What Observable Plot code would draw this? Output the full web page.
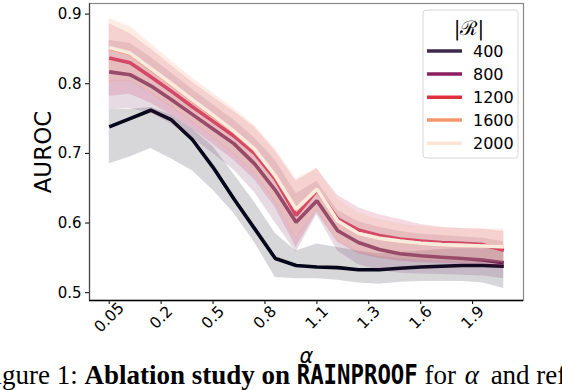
<!DOCTYPE html>
<html><head><meta charset="utf-8">
<script src="https://cdn.jsdelivr.net/npm/d3@7"></script>
<script src="https://cdn.jsdelivr.net/npm/@observablehq/plot@0.6"></script>
<style>
body{margin:0;background:#fff;}
#wrap{position:relative;width:562px;height:390px;overflow:hidden;}
#chart{position:absolute;left:0;top:0;}
.over{position:absolute;left:0;top:0;}
</style></head>
<body><div id="wrap"><div id="chart"></div></div>
<script>
// ---- data ----
const alphaIdx = [0,1,2,3,4,5,6,7,8,9,10,11,12,13,14,15,16,17,18,19];
const tickPos = [0,2.5,5,7.5,10,12.5,15,17.5];
const tickLabels = ["0.05","0.2","0.5","0.8","1.1","1.3","1.6","1.9"];
const yTicks = [0.5,0.6,0.7,0.8,0.9];
const sizes = [400,800,1200,1600,2000];
const lineColors = ["#05061b","#611d51","#c9184f","#f4875c","#faebdd"];
const legendColors = ["#3d2a4a","#8c1f5f","#e0303e","#f4966d","#fce4d4"];

const auroc400 = [0.738,0.750,0.762,0.748,0.720,0.680,0.635,0.592,0.549,0.539,0.537,0.536,0.533,0.533,0.535,0.537,0.538,0.539,0.539,0.538];
const low400   = [0.685,0.695,0.707,0.692,0.675,0.647,0.614,0.572,0.522,0.520,0.520,0.518,0.514,0.512,0.515,0.516,0.516,0.516,0.514,0.506];
const up400    = [0.764,0.763,0.766,0.755,0.735,0.710,0.670,0.630,0.585,0.560,0.570,0.565,0.560,0.556,0.558,0.560,0.562,0.563,0.563,0.565];

const auroc800 = [0.817,0.813,0.797,0.777,0.756,0.735,0.714,0.685,0.647,0.601,0.632,0.589,0.572,0.562,0.556,0.553,0.551,0.549,0.547,0.543];
const low800   = [0.764,0.764,0.758,0.742,0.722,0.700,0.676,0.644,0.600,0.558,0.612,0.560,0.540,0.532,0.528,0.527,0.526,0.525,0.524,0.520];
const up800    = [0.862,0.858,0.838,0.815,0.792,0.770,0.748,0.722,0.690,0.642,0.660,0.618,0.602,0.594,0.588,0.584,0.582,0.580,0.578,0.573];

const auroc1200 = [0.837,0.830,0.810,0.789,0.767,0.746,0.725,0.700,0.663,0.611,0.647,0.606,0.590,0.582,0.577,0.574,0.572,0.571,0.569,0.561];
const low1200   = [0.782,0.785,0.772,0.755,0.735,0.713,0.690,0.662,0.622,0.565,0.615,0.572,0.556,0.549,0.545,0.543,0.542,0.541,0.540,0.535];
const up1200    = [0.886,0.872,0.850,0.826,0.802,0.781,0.760,0.737,0.703,0.660,0.678,0.640,0.622,0.612,0.605,0.598,0.594,0.592,0.591,0.588];

const auroc1600 = [0.851,0.843,0.821,0.799,0.776,0.754,0.731,0.705,0.667,0.619,0.648,0.603,0.585,0.578,0.574,0.571,0.569,0.568,0.567,0.566];
const low1600   = [0.803,0.803,0.786,0.766,0.744,0.722,0.698,0.670,0.630,0.576,0.618,0.574,0.557,0.551,0.548,0.546,0.545,0.544,0.544,0.542];
const up1600    = [0.893,0.882,0.857,0.832,0.808,0.786,0.764,0.740,0.706,0.663,0.679,0.634,0.614,0.605,0.599,0.595,0.593,0.592,0.591,0.591];

const auroc2000 = [0.852,0.844,0.822,0.800,0.777,0.755,0.732,0.706,0.668,0.620,0.649,0.603,0.585,0.578,0.574,0.571,0.569,0.568,0.567,0.566];
const low2000   = [0.805,0.805,0.788,0.768,0.746,0.724,0.700,0.672,0.632,0.578,0.620,0.575,0.558,0.552,0.549,0.547,0.546,0.545,0.545,0.543];
const up2000    = [0.897,0.885,0.860,0.834,0.810,0.788,0.766,0.742,0.708,0.665,0.680,0.635,0.615,0.606,0.600,0.596,0.594,0.593,0.592,0.592];

const seriesVals = [auroc400, auroc800, auroc1200, auroc1600, auroc2000];
const seriesLow  = [low400, low800, low1200, low1600, low2000];
const seriesUp   = [up400, up800, up1200, up1600, up2000];

const xDomain = [-0.95, 19.95];
const yDomain = [0.4888, 0.9152];

// ---- build marks ----
const marks = [];
sizes.forEach((s, k) => {
  const rows = alphaIdx.map((i) => ({i, v: seriesVals[k][i], lo: seriesLow[k][i], hi: seriesUp[k][i]}));
  marks.push(Plot.lineY(rows, {x: "i", y: "v", stroke: lineColors[k], strokeWidth: 3.6, strokeLinejoin: "miter", strokeLinecap: "butt"}));
  marks.push(Plot.areaY(rows, {x: "i", y1: "lo", y2: "hi", fill: lineColors[k], fillOpacity: 0.16}));
});

const chart = Plot.plot({
  width: 562, height: 390,
  marginLeft: 89, marginRight: 39, marginTop: 3, marginBottom: 90,
  style: {fontFamily: "DejaVu Sans", fontSize: "15px", color: "#000", background: "transparent"},
  x: {domain: xDomain, label: null},
  y: {domain: yDomain, label: null},
  marks: [
    ...marks,
    Plot.frame({stroke: "#888", strokeWidth: 1.2}),
    Plot.ruleY([yDomain[0]], {stroke: "#000", strokeWidth: 1.5}),
    Plot.ruleX([xDomain[0]], {stroke: "#444", strokeWidth: 1.2}),
    Plot.axisY({ticks: yTicks, tickFormat: d3.format(".1f"), tickSize: 4, tickPadding: 4, label: null, fontSize: 15}),
    Plot.axisX({ticks: tickPos, tickFormat: (d) => tickLabels[tickPos.indexOf(d)], tickSize: 4, tickRotate: -45,
      textAnchor: "middle", lineAnchor: "middle", tickPadding: 13, label: null, fontSize: 15.5}),
    Plot.text(["AUROC"], {frameAnchor: "left", dx: -46, rotate: -90, fontSize: 23, textAnchor: "middle", lineAnchor: "middle"}),
    Plot.text(["α"], {frameAnchor: "bottom", dy: 56, fontSize: 21, fontStyle: "italic", textAnchor: "middle", lineAnchor: "middle"})
  ]
});
document.getElementById("chart").appendChild(chart);

// ---- legend + caption overlay ----
const svg = d3.select("#wrap").append("svg").attr("class", "over").attr("width", 562).attr("height", 390);
const lg = svg.append("g");
lg.append("rect").attr("x", 423).attr("y", 10).attr("width", 95).attr("height", 148).attr("rx", 3)
  .attr("fill", "rgba(255,255,255,0.8)").attr("stroke", "#d6d6d6").attr("stroke-width", 1);
lg.append("text").attr("x", 469).attr("y", 35).attr("text-anchor", "middle")
  .attr("font-family", "DejaVu Serif").attr("font-size", 20).text("|ℛ|");
const itemY = [51, 74, 97.3, 120, 143.3];
sizes.forEach((s, k) => {
  lg.append("line").attr("x1", 427).attr("x2", 462).attr("y1", itemY[k]).attr("y2", itemY[k])
    .attr("stroke", legendColors[k]).attr("stroke-width", 3.5);
  lg.append("text").attr("x", 473).attr("y", itemY[k]).attr("dy", "0.36em")
    .attr("font-family", "DejaVu Sans").attr("font-size", 16).text(String(s));
});

const cap = svg.append("text").attr("x", -20.6).attr("y", 384).attr("font-family", "Liberation Serif").attr("font-size", 27);
cap.append("tspan").text("Figure 1: ");
cap.append("tspan").attr("font-weight", "bold").text("Ablation study on ");
cap.append("tspan").attr("font-weight", "bold").attr("font-family", "DejaVu Sans Mono").attr("font-size", 26)
  .attr("textLength", 121).attr("lengthAdjust", "spacingAndGlyphs").text("RAINPROOF");
cap.append("tspan").text(" for ");
cap.append("tspan").attr("font-style", "italic").attr("dx", 2).text("α");
cap.append("tspan").attr("dx", 5).text(" and ref");
</script>
</body></html>
